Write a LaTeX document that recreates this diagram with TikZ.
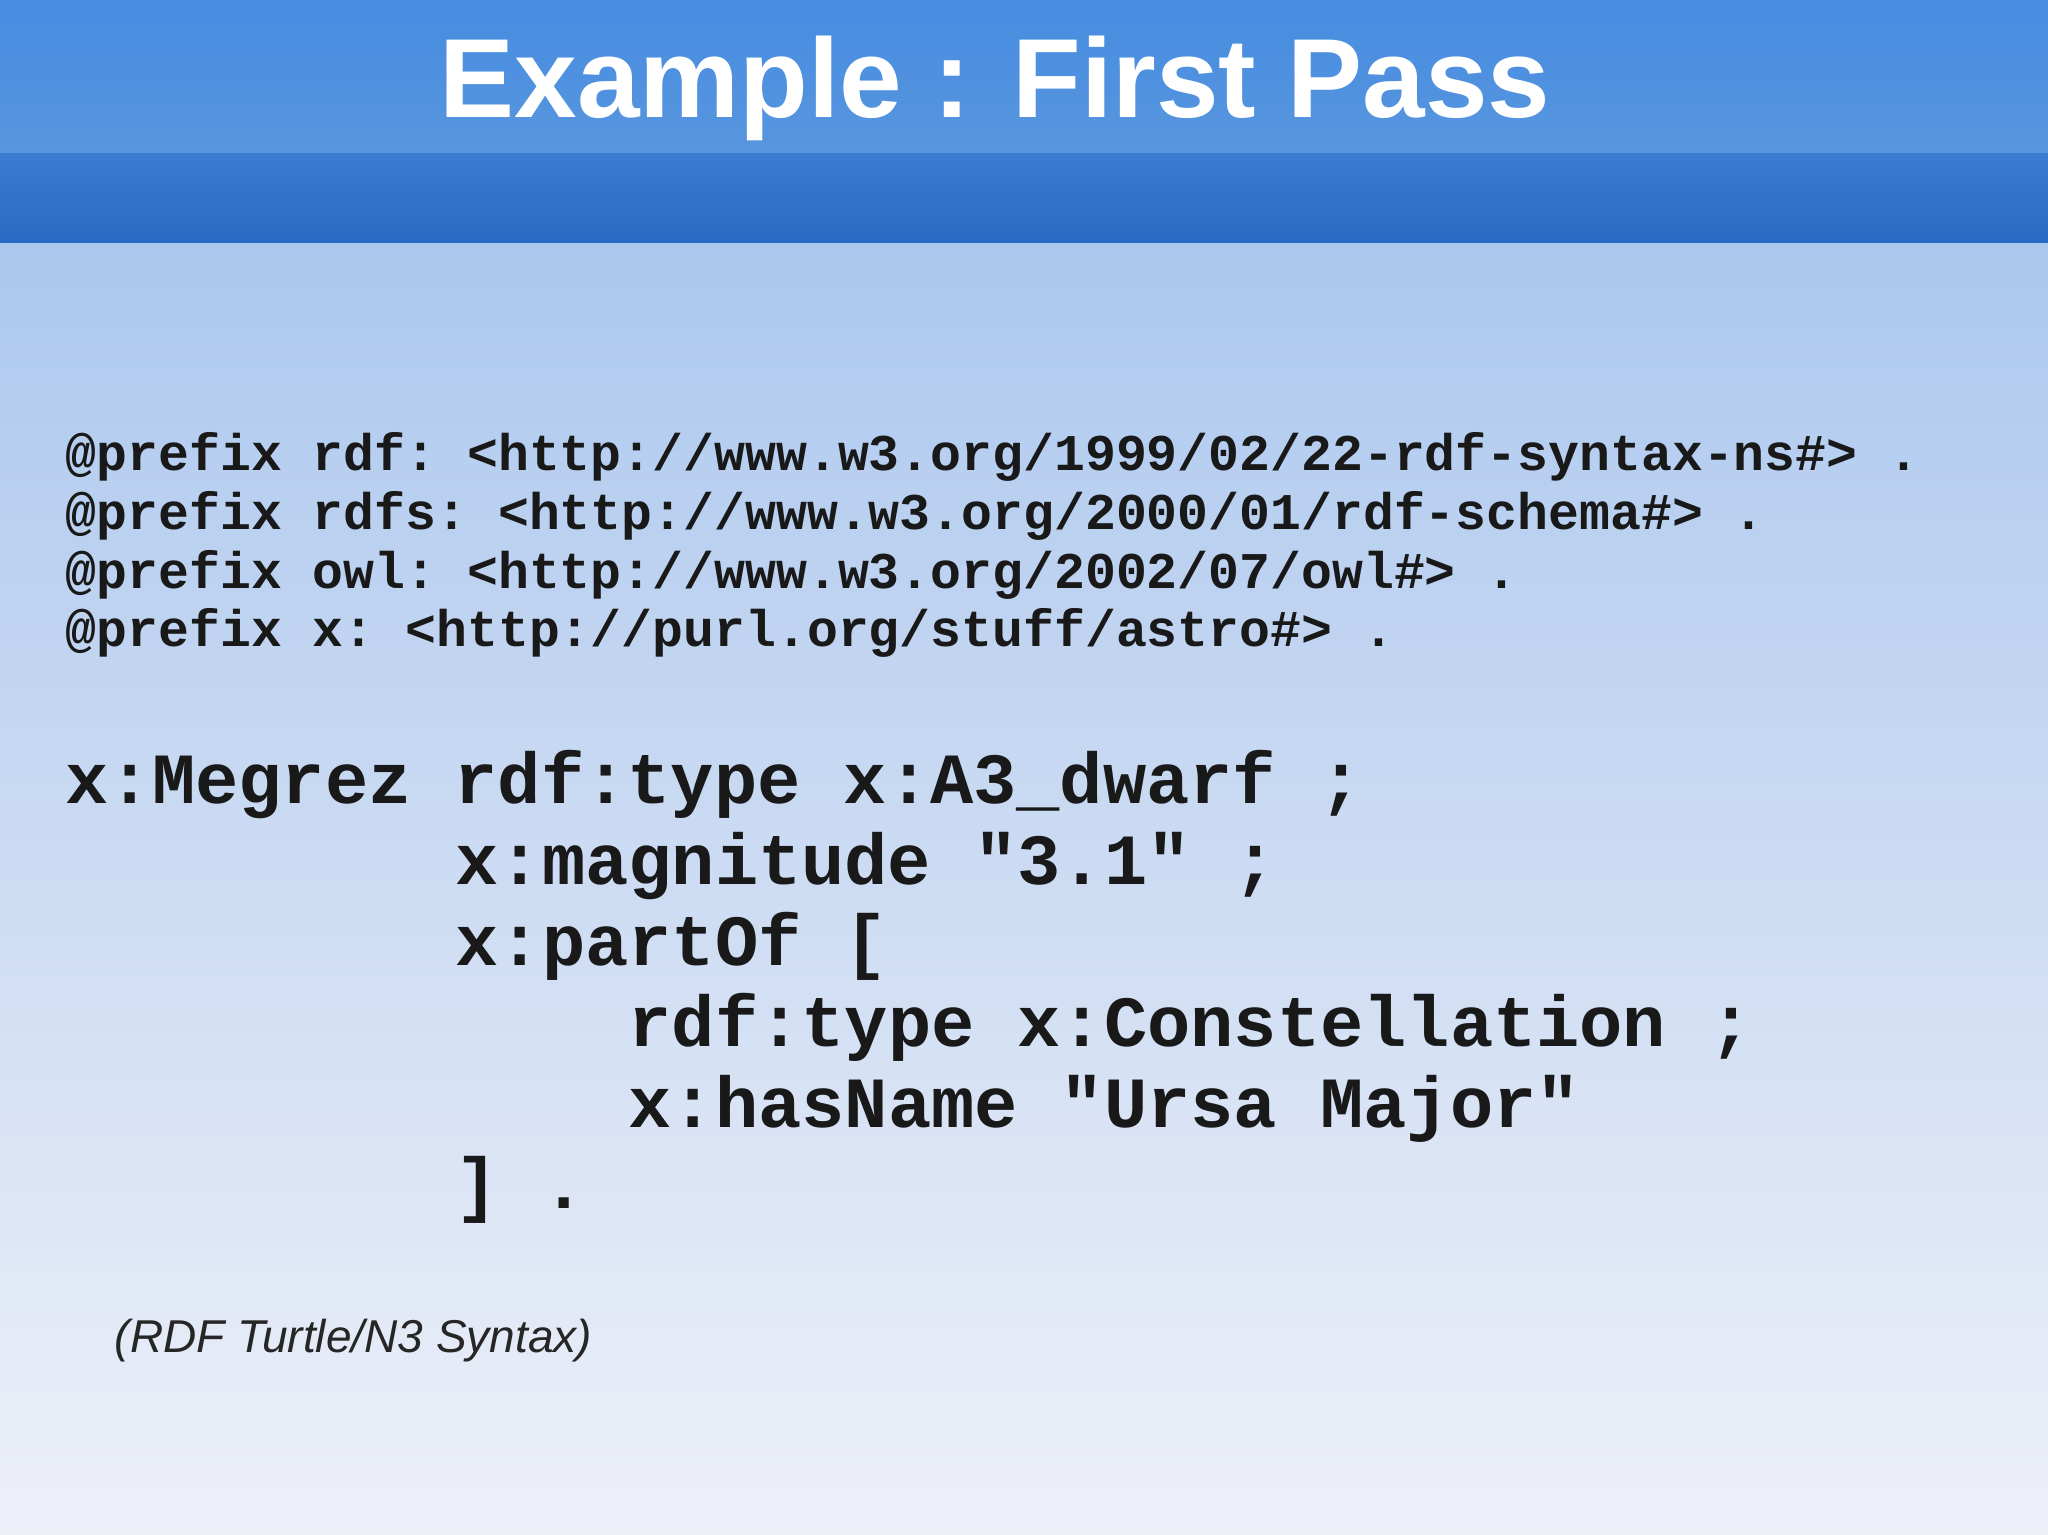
\documentclass[tikz,border=0pt]{standalone}
\usepackage{fontspec}
\setmainfont{Liberation Sans}
\setmonofont{Liberation Mono}
\begin{document}
\begin{tikzpicture}[x=1cm,y=1cm,
  pre/.style={anchor=base west,inner sep=0pt,font=\fontsize{14.65pt}{16pt}\ttfamily\bfseries,text=black!90},
  big/.style={anchor=base west,inner sep=0pt,font=\fontsize{20.5pt}{24pt}\ttfamily\bfseries,text=black!90}]
\useasboundingbox (0,0) rectangle (20.48,-15.35);
\shade[top color={rgb,255:red,172;green,200;blue,238},bottom color={rgb,255:red,238;green,240;blue,248}] (0,-2.42) rectangle (20.48,-15.35);
\shade[top color={rgb,255:red,70;green,140;blue,225},bottom color={rgb,255:red,88;green,150;blue,222}] (0,0) rectangle (20.48,-1.53);
\shade[top color={rgb,255:red,60;green,125;blue,210},bottom color={rgb,255:red,40;green,105;blue,195}] (0,-1.53) rectangle (20.48,-2.42);
\node[anchor=base,inner sep=0pt,text=white,font=\fontsize{32pt}{36pt}\selectfont\bfseries] (title) at (9.95,-1.17) {Example : First Pass};
\node[pre] (p1) at (0.65,-4.70) {@prefix rdf: <http://www.w3.org/1999/02/22-rdf-syntax-ns\#> .};
\node[pre] (p2) at (0.65,-5.29) {@prefix rdfs: <http://www.w3.org/2000/01/rdf-schema\#> .};
\node[pre] (p3) at (0.65,-5.88) {@prefix owl: <http://www.w3.org/2002/07/owl\#> .};
\node[pre] (p4) at (0.65,-6.46) {@prefix x: <http://purl.org/stuff/astro\#> .};
\node[big] (b1) at (0.65,-8.03) {x:Megrez rdf:type x:A3\_dwarf ;};
\node[big] (b2) at (4.55,-8.84) {x:magnitude "3.1" ;};
\node[big] (b3) at (4.55,-9.65) {x:partOf [};
\node[big] (b4) at (6.28,-10.46) {rdf:type x:Constellation ;};
\node[big] (b5) at (6.28,-11.27) {x:hasName "Ursa Major"};
\node[big] (b6) at (4.55,-12.08) {] .};
\node[anchor=base west,inner sep=0pt,font=\fontsize{13.1pt}{16pt}\selectfont\itshape,text=black!85] (cap) at (1.14,-13.52) {(RDF Turtle/N3 Syntax)};
\end{tikzpicture}
\end{document}
